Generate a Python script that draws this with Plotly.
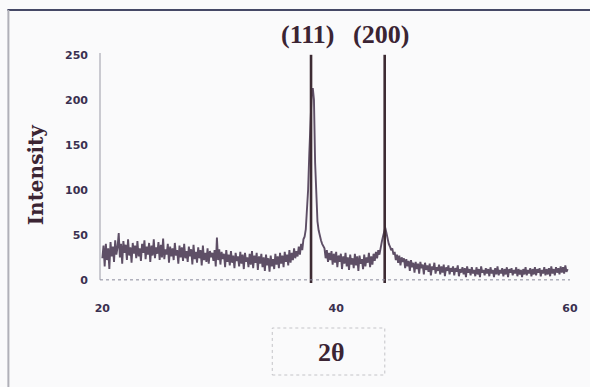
import numpy as np
import plotly.graph_objects as go

# ---- data ----
two_theta_start = 20.0
two_theta_step = 0.1
intensity = [
    24, 38, 15, 40, 22, 35, 12, 42, 26, 37,   # 20.x
    20, 44, 28, 36, 52, 25, 40, 18, 43, 30,   # 21.x
    39, 22, 45, 27, 36, 19, 41, 29, 38, 24,   # 22.x
    43, 26, 35, 21, 40, 30, 44, 23, 37, 28,   # 23.x
    41, 20, 38, 27, 45, 24, 36, 29, 42, 22,   # 24.x
    39, 25, 46, 23, 34, 28, 40, 19, 37, 26,   # 25.x
    35, 22, 41, 27, 33, 18, 38, 25, 36, 21,   # 26.x
    40, 24, 32, 20, 37, 26, 34, 17, 39, 23,   # 27.x
    31, 19, 36, 24, 33, 16, 38, 22, 30, 20,   # 28.x
    35, 18, 32, 25, 30, 21, 33, 15, 47, 22,   # 29.x
    34, 17, 31, 23, 29, 14, 33, 20, 28, 16,   # 30.x
    32, 19, 27, 13, 30, 21, 26, 15, 31, 18,   # 31.x
    28, 12, 30, 20, 25, 14, 29, 17, 32, 13,   # 32.x
    27, 19, 30, 11, 26, 18, 29, 14, 25, 10,   # 33.x
    28, 16, 24, 9, 27, 15, 23, 12, 29, 17,    # 34.x
    26, 13, 30, 18, 27, 14, 31, 20, 28, 16,   # 35.x
    33, 19, 30, 22, 35, 24, 32, 26, 37, 28,   # 36.x
    40, 33, 45, 48, 56, 75, 100, 140, 180, 205,  # 37.x
    213, 200, 130, 85, 65, 55, 48, 44, 40, 37,   # 38.x
    35, 24, 33, 20, 30, 22, 32, 17, 29, 19,   # 39.x
    31, 14, 27, 20, 29, 12, 26, 18, 30, 15,   # 40.x
    25, 11, 28, 17, 24, 13, 29, 16, 26, 10,   # 41.x
    27, 18, 23, 12, 28, 15, 25, 19, 30, 14,   # 42.x
    26, 17, 29, 21, 31, 24, 33, 28, 37, 42,   # 43.x
    48, 53, 58, 52, 45, 40, 37, 33, 35, 28,   # 44.x
    31, 22, 28, 19, 27, 16, 25, 20, 24, 13,   # 45.x
    23, 15, 21, 10, 22, 14, 19, 8, 20, 12,    # 46.x
    18, 7, 20, 13, 17, 6, 19, 11, 16, 9,      # 47.x
    18, 5, 15, 11, 19, 7, 14, 10, 17, 6,      # 48.x
    15, 8, 17, 4, 14, 10, 16, 6, 13, 9,       # 49.x
    15, 5, 13, 9, 16, 4, 12, 8, 14, 6,        # 50.x
    13, 3, 15, 8, 12, 5, 14, 7, 11, 4,        # 51.x
    14, 6, 12, 3, 15, 8, 11, 5, 13, 7,        # 52.x
    12, 4, 14, 7, 11, 3, 13, 6, 15, 5,        # 53.x
    11, 7, 13, 4, 12, 6, 14, 3, 12, 8,        # 54.x
    13, 5, 11, 7, 14, 4, 12, 6, 11, 3,        # 55.x
    12, 6, 14, 5, 11, 7, 13, 4, 12, 6,        # 56.x
    14, 5, 12, 8, 13, 4, 11, 7, 14, 5,        # 57.x
    12, 6, 13, 4, 15, 7, 12, 5, 14, 8,        # 58.x
    13, 6, 15, 8, 14, 7, 16, 9, 12,           # 59.x
]
two_theta = np.round(two_theta_start + two_theta_step * np.arange(len(intensity)), 2)

peak_labels = ["(111)", "(200)"]
peak_positions = [37.85, 44.15]
peak_line_top = 250
peak_line_bottom = -3.5

x_ticks = [20, 40, 60]
y_ticks = [0, 50, 100, 150, 200, 250]

# ---- figure ----
TEXT = "#3b2433"
BAND = "#5e4f66"
LINE = "#3d2b33"

W, H = 590, 387
L, T = 100, 53
R = W - 572
B = H - 283
PW, PH = W - L - R, H - T - B


def px(xp):
    return (xp - L) / PW


def py(yp):
    return (H - B - yp) / PH


fig = go.Figure()
fig.add_trace(go.Scatter(x=two_theta, y=intensity, mode="lines",
                         line=dict(color=BAND, width=1.9), hoverinfo="skip",
                         showlegend=False))
for pos in peak_positions:
    fig.add_trace(go.Scatter(x=[pos, pos], y=[peak_line_bottom, peak_line_top],
                             mode="lines", line=dict(color=LINE, width=2.6),
                             showlegend=False, hoverinfo="skip"))

shapes = [
    dict(type="line", xref="paper", yref="y", x0=0, x1=1, y0=0, y1=0,
         line=dict(color="#8a8a9a", width=1, dash="dot")),
    dict(type="line", xref="paper", yref="y", x0=0, x1=0, y0=0, y1=252,
         line=dict(color="#9a9aa6", width=1)),
    dict(type="rect", xref="paper", yref="paper", x0=px(273), x1=px(386),
         y0=py(375), y1=py(328), line=dict(color="#c4c4c8", width=1, dash="dot")),
    dict(type="line", xref="paper", yref="paper", x0=px(7), x1=px(600),
         y0=py(10), y1=py(10), line=dict(color="#454866", width=2)),
    dict(type="line", xref="paper", yref="paper", x0=px(8), x1=px(8),
         y0=py(10), y1=py(395), line=dict(color="#b0b0b8", width=2)),
]

annotations = [
    dict(text="Intensity", xref="paper", yref="paper", x=px(36), y=py(175),
         textangle=-90, showarrow=False, xanchor="center", yanchor="middle",
         font=dict(family="DejaVu Serif", size=20, color=TEXT, weight="bold")),
    dict(text="2θ", xref="paper", yref="paper", x=px(332), y=py(352),
         showarrow=False, xanchor="center", yanchor="middle",
         font=dict(family="Liberation Serif", size=26, color=TEXT, weight="bold")),
]
for lab, pos in zip(peak_labels, peak_positions):
    annotations.append(dict(text=lab, x=pos, xref="x", xshift=-4,
                            yref="paper", y=py(34), showarrow=False,
                            xanchor="center", yanchor="middle",
                            font=dict(family="Liberation Serif", size=26,
                                      color=TEXT, weight="bold")))

tickfont = dict(family="DejaVu Sans", size=11, color="#3a3050", weight="bold")
fig.update_layout(
    width=W, height=H,
    margin=dict(l=L, r=R, t=T, b=B),
    paper_bgcolor="#fafafb", plot_bgcolor="#fafafb",
    xaxis=dict(range=[19.8, 60], tickvals=x_ticks, showgrid=False,
               zeroline=False, showline=False, ticks="", tickfont=tickfont,
               ticklabelstandoff=17),
    yaxis=dict(range=[-3.5, 252], tickvals=y_ticks, showgrid=False,
               zeroline=False, showline=False, ticks="", tickfont=tickfont,
               ticklabelstandoff=11),
    shapes=shapes, annotations=annotations, showlegend=False,
)

fig.write_html(
    "out.html",
    config={"displayModeBar": False},
    post_script="document.body.style.margin='0';document.body.style.overflow='hidden';",
)
